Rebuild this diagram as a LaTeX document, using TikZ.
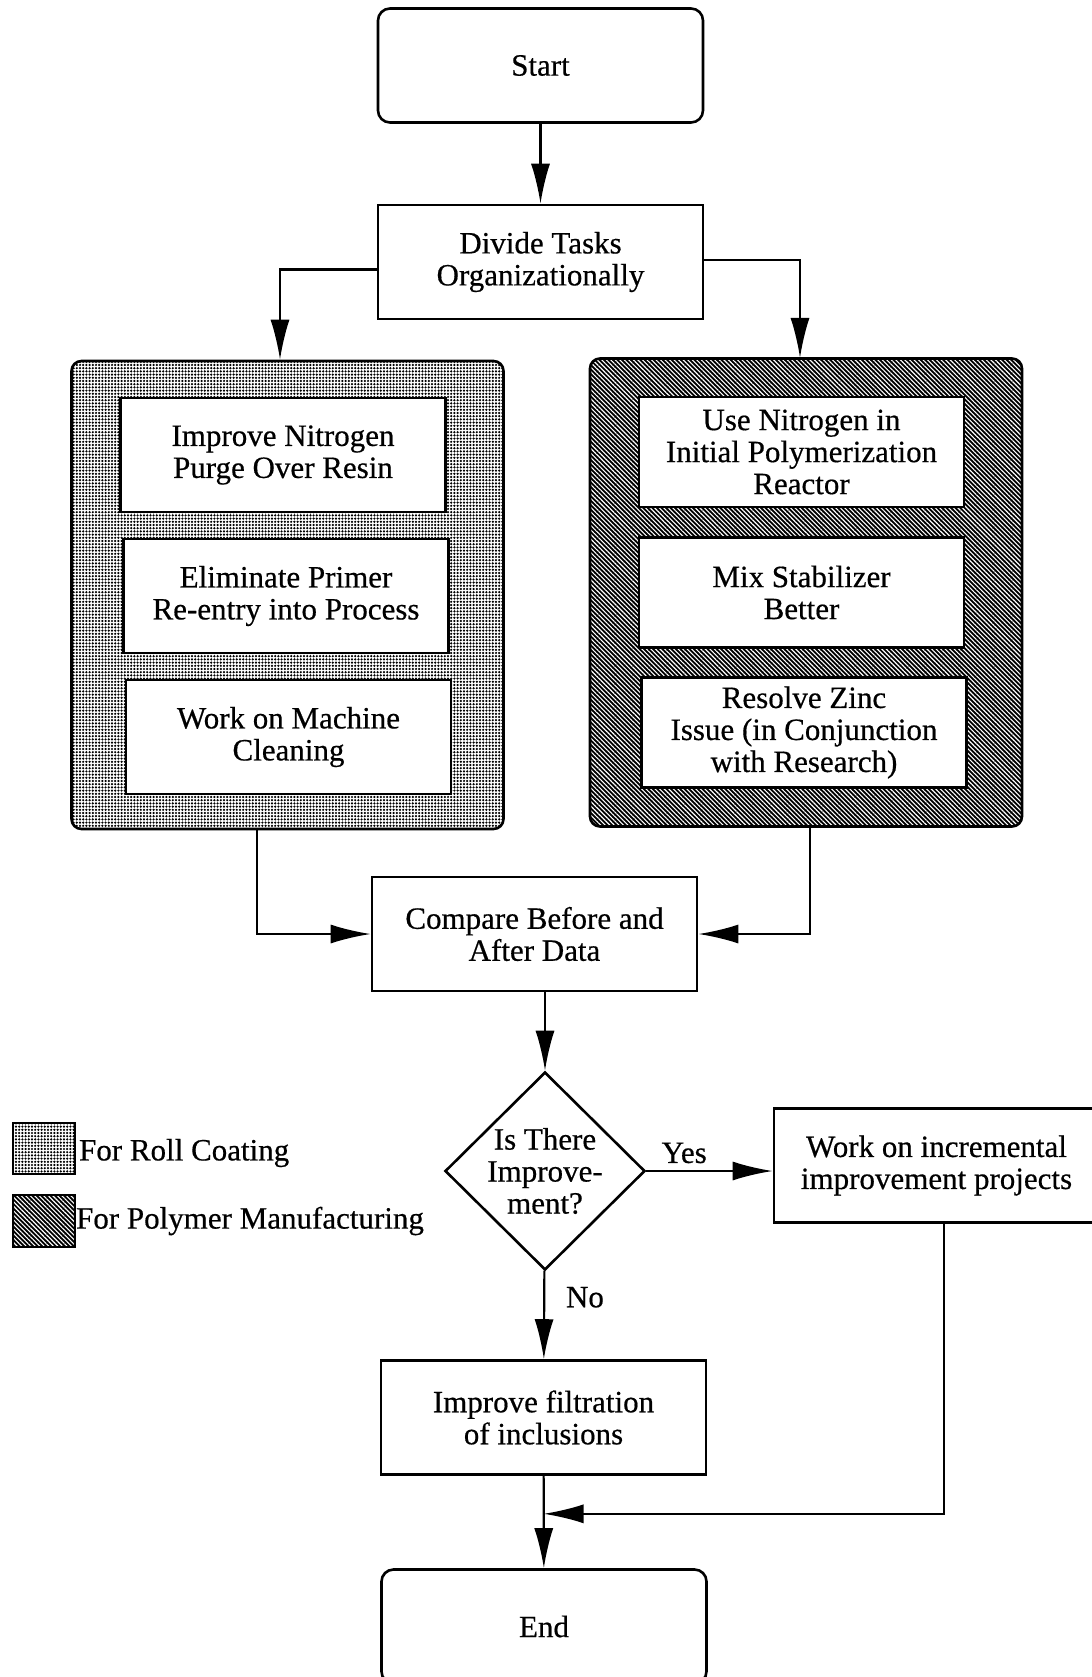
\documentclass[tikz,border=0pt]{standalone}
\usepackage{fontspec}
\setmainfont{Liberation Serif}[FakeBold=0.5]
\usetikzlibrary{arrows.meta,shapes.geometric,patterns.meta}

\begin{document}
\begin{tikzpicture}[x=0.5pt,y=-0.5pt,->,>={Latex[length=20pt,width=9.5pt]},auto,line width=1.1pt,
		every node/.style={font=\fontsize{15.5}{16}\selectfont},
		box/.style={draw,-,line width=1.3pt,fill=white,align=center,minimum width=162.5pt,minimum height=57pt,inner sep=0pt},
		term/.style={box,rounded corners=6pt},
		rollfill/.style={preaction={fill=white},pattern={Dots[distance=1.6pt,radius=0.62pt]}},
		polyfill/.style={preaction={fill=black},pattern={Lines[angle=-45,distance=1.6pt,line width=0.55pt]},pattern color=white},
		grp/.style={draw,-,line width=1.3pt,rounded corners=5pt,minimum width=216pt,minimum height=234pt},
		key/.style={draw,-,line width=1.3pt,minimum width=31pt,minimum height=25.5pt},
		decide/.style={diamond,draw,-,line width=1.3pt,align=center,inner sep=-1pt,minimum width=100pt,minimum height=99pt}
		]
		\useasboundingbox (0,0) rectangle (1092,1677);
		\clip (0,0) rectangle (1092,1677);
		\node[term] (start) at (540.5,65.5) {Start};
		\node[box] (div) at (540.5,262) {Divide Tasks\\Organizationally};
		\node[grp,rollfill] (roll) at (287.5,595) {};
		\node[grp,polyfill] (poly) at (806,592.5) {};
		\node[box] (purge) at (283,455) {Improve Nitrogen\\Purge Over Resin};
		\node[box] (primer) at (286,596) {Eliminate Primer\\Re-entry into Process};
		\node[box] (clean) at (288.5,737) {Work on Machine\\Cleaning};
		\node[box,minimum height=55pt] (reactor) at (801.5,452) {Use Nitrogen in\\Initial Polymerization\\Reactor};
		\node[box,minimum height=55pt] (mix) at (801.5,592.5) {Mix Stabilizer\\Better};
		\node[box,minimum height=55pt] (zinc) at (804,732.5) {Resolve Zinc\\Issue (in Conjunction\\with Research)};
		\node[box] (comp) at (534.5,934) {Compare Before and\\After Data};
		\node[decide] (imp) at (545,1171) {Is There\\Improve-\\ment?};
		\node[box] (incr) at (936.5,1165.5) {Work on incremental\\improvement projects};
		\node[box] (filt) at (543.5,1417.5) {Improve filtration\\of inclusions};
		\node[term] (end) at (544,1626.5) {End};
		\node[key,rollfill] (keyroll) at (44,1148.5) {};
		\node[key,polyfill,minimum height=26pt] (keypoly) at (44,1221) {};
		\node[anchor=west,inner sep=0pt] (txtroll) at (78,1153) {For Roll Coating};
		\node[anchor=west,inner sep=0pt] (txtpoly) at (75,1221) {For Polymer Manufacturing};
		\coordinate (merge) at ([yshift=-19pt]filt.south);
		
		\path (start) edge (div);
		\draw ([yshift=-3.75pt]div.west) -| ([xshift=-3.75pt]roll.north);
		\draw ([yshift=1pt]div.east) -| ([xshift=-3pt]poly.north);
		\draw ([xshift=-15.25pt]roll.south) |- (comp.west);
		\draw ([xshift=2pt]poly.south) |- (comp.east);
		\path (comp.south -| imp) edge (imp);
		\path (imp) edge node[pos=0.3]{Yes} (imp -| incr.west);
		\path (imp) edge node[pos=0.3,xshift=7pt]{No} (filt);
		\path (filt) edge (end);
		\draw ([xshift=3.75pt]incr.south) |- (merge);
	\end{tikzpicture}
\end{document}
